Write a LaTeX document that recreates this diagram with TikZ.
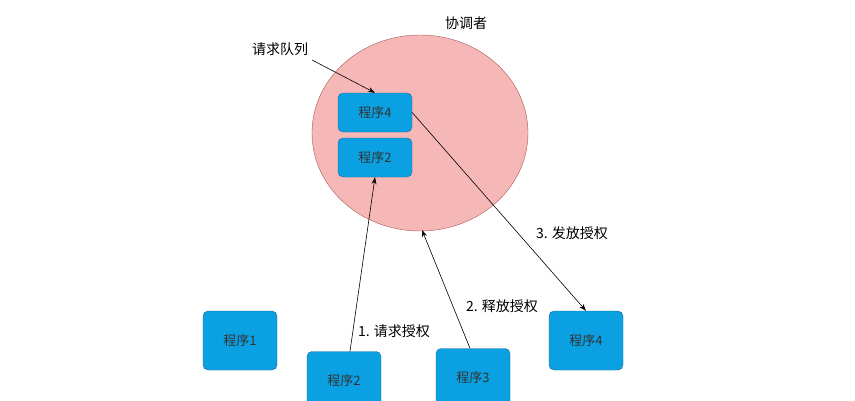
\documentclass[tikz,border=0pt]{standalone}
\usepackage{fontspec}
\setmainfont{Liberation Serif}
\newfontfamily\cjk{Noto Sans CJK SC}
\usetikzlibrary{arrows.meta,shapes.geometric}
\definecolor{boxc}{RGB}{10,160,225}
\definecolor{boxd}{RGB}{40,100,160}
\definecolor{circc}{RGB}{246,183,183}
\begin{document}
\begin{tikzpicture}[x=1pt,y=-1pt,
  prog/.style={draw=boxd,fill=boxc,rounded corners=5pt,minimum width=74pt,inner sep=0pt,font=\cjk\fontsize{13}{15}\selectfont,text=black!80},
  arr/.style={-{Stealth[length=7pt,width=5pt]},semithick},
  lbl/.style={font=\cjk\fontsize{14}{16}\selectfont}]
\useasboundingbox (0,0) rectangle (855,400);
\fill[white] (0,0) rectangle (855,400);
\node[draw=gray!70!red,fill=circc,ellipse,minimum width=216pt,minimum height=196pt,inner sep=0pt] (c) at (420,133) {};
\node[prog,minimum height=39pt] (q4) at (375,112.5) {程序4};
\node[prog,minimum height=39pt] (q2) at (375,157.5) {程序2};
\node[prog,minimum height=59pt] (p1) at (240,340.5) {程序1};
\node[prog,minimum height=59pt] (p2) at (344,381) {程序2};
\node[prog,minimum height=59pt] (p3) at (473,378) {程序3};
\node[prog,minimum height=59pt] (p4) at (586,340.5) {程序4};
\node[lbl] (tc) at (466,23) {协调者};
\node[lbl] (tq) at (280,49) {请求队列};
\node[lbl] (t1) at (394,331) {1. 请求授权};
\node[lbl] (t2) at (502,306) {2. 释放授权};
\node[lbl] (t3) at (572,233) {3. 发放授权};
\coordinate (qs) at (312,60);
\coordinate (a2) at (422,230);
\draw[arr] (qs) -- (q4.north);
\draw[arr] (p2.north) ++(6,0) coordinate (b2) -- (q2.south);
\draw[arr] (p3.north) ++(-3,0) -- (a2);
\draw[arr] (q4.east) -- (p4.north);
\end{tikzpicture}
\end{document}
